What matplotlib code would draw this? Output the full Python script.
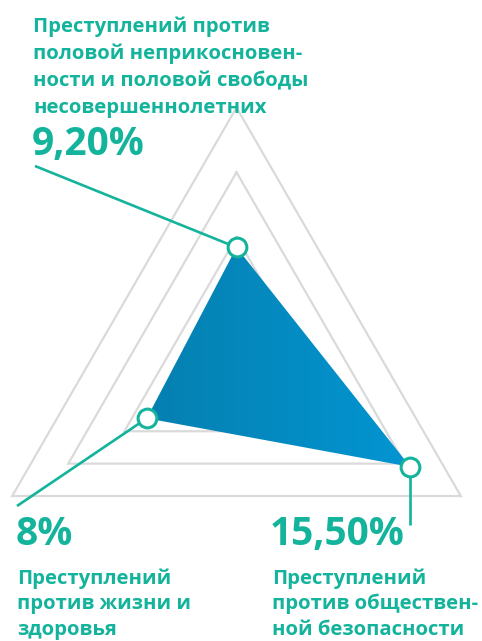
import numpy as np
import matplotlib
matplotlib.use("Agg")
import matplotlib.pyplot as plt
from matplotlib.patches import Polygon
from matplotlib.colors import LinearSegmentedColormap

# ---- data ----
categories = [
    "Преступлений против\nполовой неприкосновен-\nности и половой свободы\nнесовершеннолетних",
    "Преступлений\nпротив жизни и\nздоровья",
    "Преступлений\nпротив обществен-\nной безопасности",
]
values = [9.2, 8.0, 15.5]
value_labels = ["9,20%", "8%", "15,50%"]
grid_levels = [10, 15, 20]
angles_deg = [90, 210, 330]

TEAL = "#14B39C"
GRID = "#DADADA"

W, H = 482, 641
DPI = 100
fig = plt.figure(figsize=(W / DPI, H / DPI), dpi=DPI)
ax = fig.add_axes([0, 0, 1, 1])
ax.set_axis_off()

# pixel geometry of the radar
cx, cy = 236.5, 366.5          # centre in pixels (from top)
s = 259.0 / 20.0               # pixels per percent
ax.set_xlim(-cx / s, (W - cx) / s)
ax.set_ylim(-(H - cy) / s, cy / s)

def px2data(px, py):
    return (px - cx) / s, (cy - py) / s

ang = np.deg2rad(angles_deg)

# grid triangles
for lv in grid_levels:
    gx = lv * np.cos(ang)
    gy = lv * np.sin(ang)
    ax.plot(np.append(gx, gx[0]), np.append(gy, gy[0]), color=GRID, lw=1.6,
            solid_joinstyle="miter", zorder=1)

# data polygon with gradient
vals = np.array(values)
dx = vals * np.cos(ang)
dy = vals * np.sin(ang)
poly = Polygon(np.column_stack([dx, dy]), closed=True, facecolor="none",
               edgecolor="none", zorder=2)
ax.add_patch(poly)
cmap = LinearSegmentedColormap.from_list("g", ["#0580B0", "#0395D2"])
grad = np.linspace(0, 1, 256).reshape(1, -1)
im = ax.imshow(grad, cmap=cmap, aspect="auto",
               extent=[dx.min(), dx.max(), dy.min(), dy.max()],
               zorder=2, interpolation="bilinear")
im.set_clip_path(poly)

# leader lines (end points in pixels; the right one drops vertically)
_, ty0 = px2data(0, 166)
_, ty1 = px2data(0, 506)
_, ty2 = px2data(0, 525)
ends = [(px2data(35, 0)[0], ty0), (px2data(17, 0)[0], ty1), (dx[2], ty2)]
for (x0, y0), (tx, ty) in zip(zip(dx, dy), ends):
    ax.plot([x0, tx], [y0, ty], color=TEAL, lw=1.9, zorder=3,
            solid_capstyle="butt")

# markers
ax.plot(dx, dy, linestyle="none", marker="o", markersize=13.5,
        markerfacecolor="white", markeredgecolor=TEAL, markeredgewidth=2.2,
        zorder=4)

# text
FONT = "Open Sans"
def ftext(px, py, txt, size):
    fig.text(px / W, 1 - py / H, txt, color=TEAL, fontsize=size,
             fontweight="bold", family=FONT, ha="left", va="baseline")

# top label
for i, ln in enumerate(categories[0].split("\n")):
    ftext(33, 32 + i * 27, ln, 14.6)
ftext(32, 155, value_labels[0], 28)

# bottom left
ftext(16, 545, value_labels[1], 28)
for i, ln in enumerate(categories[1].split("\n")):
    ftext(17, 584 + i * 25.5, ln, 14.6)

# bottom right
ftext(270, 545, value_labels[2], 28)
for i, ln in enumerate(categories[2].split("\n")):
    ftext(272, 584 + i * 25.5, ln, 14.6)

fig.savefig("out.png", dpi=DPI, facecolor="white")
